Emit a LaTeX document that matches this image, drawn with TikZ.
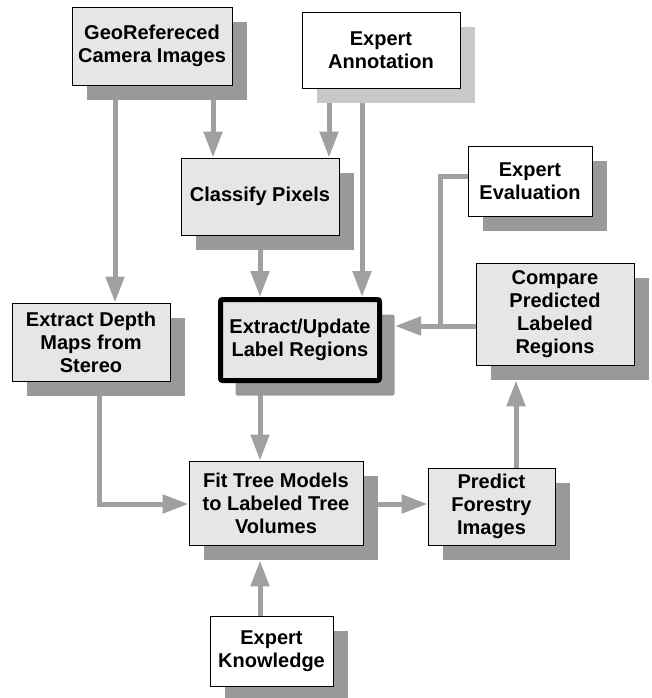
\documentclass[tikz,border=0pt]{standalone}
\usepackage{fontspec}
\setmainfont{Liberation Sans}
\usetikzlibrary{arrows.meta,shadows,backgrounds}
\definecolor{boxgray}{HTML}{E6E6E6}
\definecolor{shadegray}{HTML}{999999}
\definecolor{paleshade}{HTML}{C8C8C8}
\definecolor{flowgray}{HTML}{A0A0A0}

\begin{document}
\begin{tikzpicture}
			[x=1pt,y=-1pt,
			box/.style={draw,line width=0.9pt,fill=boxgray,align=center,inner sep=0pt,
				font=\bfseries\fontsize{20}{23}\selectfont,
				drop shadow={shadow xshift=15pt,shadow yshift=-15pt,fill=shadegray,opacity=1}},
			expert/.style={box,fill=white},
			flow/.style={draw=flowgray,line width=5pt,-{Triangle[width=18pt,length=26pt]}},
			line/.style={draw=flowgray,line width=5pt},]
			\useasboundingbox (0,0) rectangle (652,698);
			\node (geo) at (152,46)[box,minimum width=160pt,minimum height=78pt] {GeoRefereced\\Camera Images};
			\node (annot) at (381,50)[expert,minimum width=158pt,minimum height=76pt,
				drop shadow={shadow xshift=15pt,shadow yshift=-15pt,fill=paleshade,opacity=1}] {Expert\\Annotation};
			\node (classify) at (260,196.5)[box,minimum width=158pt,minimum height=77pt] {Classify Pixels};
			\node (depth) at (91,342)[box,minimum width=158pt,minimum height=78pt] {Extract Depth\\Maps from\\Stereo};
			\node (extract) at (300,340)[box,line width=5pt,rounded corners=2pt,minimum width=159pt,minimum height=81pt] {Extract/Update\\Label Regions};
			\node (evaluation) at (530,181)[expert,minimum width=124pt,minimum height=70pt] {Expert\\Evaluation};
			\node (compare) at (555,314)[box,minimum width=158pt,minimum height=102pt] {Compare\\Predicted\\Labeled\\Regions};
			\node (fit) at (276,503)[box,minimum width=174pt,minimum height=84pt] {Fit Tree Models\\to Labeled Tree\\Volumes};
			\node (predict) at (491.5,506.5)[box,minimum width=127pt,minimum height=77pt] {Predict\\Forestry\\Images};
			\node (knowledge) at (271.5,651)[expert,minimum width=123pt,minimum height=70pt] {Expert\\Knowledge};
			\coordinate (jn) at (440,326);
			\begin{scope}[on background layer]
			\draw[flow] ([xshift=-37pt]geo.south) -- ([xshift=24pt]depth.north);
			\draw[flow] ([xshift=61pt]geo.south) -- ([xshift=-47pt]classify.north);
			\draw[flow] ([xshift=-52pt]annot.south) -- ([xshift=69pt]classify.north);
			\draw[flow] ([xshift=-19pt]annot.south) -- ([xshift=62pt]extract.north);
			\draw[flow] (classify.south) -- ([xshift=-40pt]extract.north);
			\draw[flow] ([xshift=-40pt]extract.south) -- ([xshift=-16pt]fit.north);
			\draw[flow] ([xshift=8pt]depth.south) |- ([yshift=-1pt]fit.west);
			\draw[flow] ([yshift=-1pt]fit.east) -- ([yshift=2.5pt]predict.west);
			\draw[flow] ([xshift=-11.5pt]knowledge.north) -- ([xshift=-16pt,yshift=-15pt]fit.south);
			\draw[flow] ([xshift=24.5pt]predict.north) -- ([xshift=-39pt,yshift=-15pt]compare.south);
			\draw[flow] ([yshift=-12pt]compare.west) -- ([xshift=13pt,yshift=14pt]extract.east);
			\draw[line] ([yshift=5pt]evaluation.west) -| (jn);
			\end{scope}
	\end{tikzpicture}
\end{document}
